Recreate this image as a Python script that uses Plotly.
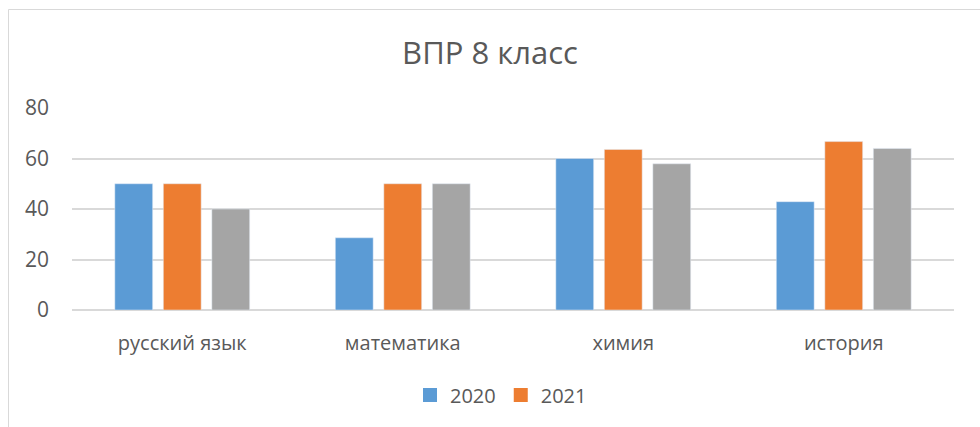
import plotly.graph_objects as go

categories = ["русский язык", "математика", "химия", "история"]
values_2020 = [50, 28.6, 60, 42.9]
values_2021 = [50, 50, 63.6, 66.7]
values_other = [40, 50, 57.9, 64]
y_ticks = [0, 20, 40, 60, 80]

FONT = "Open Sans"
TXT = "#595959"
C2020, C2021, COTHER = "#5B9BD5", "#ED7D31", "#A5A5A5"

fig = go.Figure()
fig.add_trace(go.Bar(x=categories, y=values_2020, name="2020", marker_color=C2020, showlegend=False))
fig.add_trace(go.Bar(x=categories, y=values_2021, name="2021", marker_color=C2021, showlegend=False))
fig.add_trace(go.Bar(x=categories, y=values_other, name="", marker_color=COTHER, showlegend=False))
# legend entries
for nm, col in (("2020", C2020), ("2021", C2021)):
    fig.add_trace(go.Scatter(x=[None], y=[None], mode="markers", name=nm,
                             marker=dict(symbol="square", size=14, color=col)))

L, R, T, B = 72, 26, 108, 117
W, H = 980, 427
pw = W - L - R
ph = H - T - B

fig.update_layout(
    width=W, height=H,
    margin=dict(l=L, r=R, t=T, b=B, pad=0),
    paper_bgcolor="white", plot_bgcolor="white",
    barmode="group", bargap=0.34, bargroupgap=0.22,
    title=dict(text="ВПР 8 класс", x=0.5, xanchor="center", y=1 - 53 / H, yanchor="middle",
               font=dict(family=FONT, size=31, color=TXT)),
    font=dict(family=FONT, color=TXT, size=20),
    xaxis=dict(showgrid=False, showline=False, ticks="", tickfont=dict(size=20, color=TXT),
               ticklabelstandoff=19),
    yaxis=dict(range=[0, 80], tickvals=y_ticks, showgrid=True, gridcolor="#D9D9D9", gridwidth=1.5,
               zeroline=True, zerolinecolor="#D9D9D9", zerolinewidth=1.5,
               ticks="", tickfont=dict(size=21, color=TXT), ticklabelstandoff=22),
    legend=dict(orientation="h", x=0.5 - 12 / pw, xanchor="center", y=-(395 - (H - B)) / ph,
                yanchor="middle", font=dict(size=20, color=TXT), itemsizing="trace",
                traceorder="normal", itemwidth=30),
    showlegend=True,
    shapes=[dict(type="rect", xref="paper", yref="paper",
                 x0=(8.5 - L) / pw, x1=1.3, y0=-1.5, y1=(H - B - 9.5) / ph,
                 line=dict(color="#D9D9D9", width=1), fillcolor="rgba(0,0,0,0)", layer="below")],
)

fig.write_html("out.html", config={"displayModeBar": False},
               post_script="document.body.style.margin='0';document.body.style.overflow='hidden';")
